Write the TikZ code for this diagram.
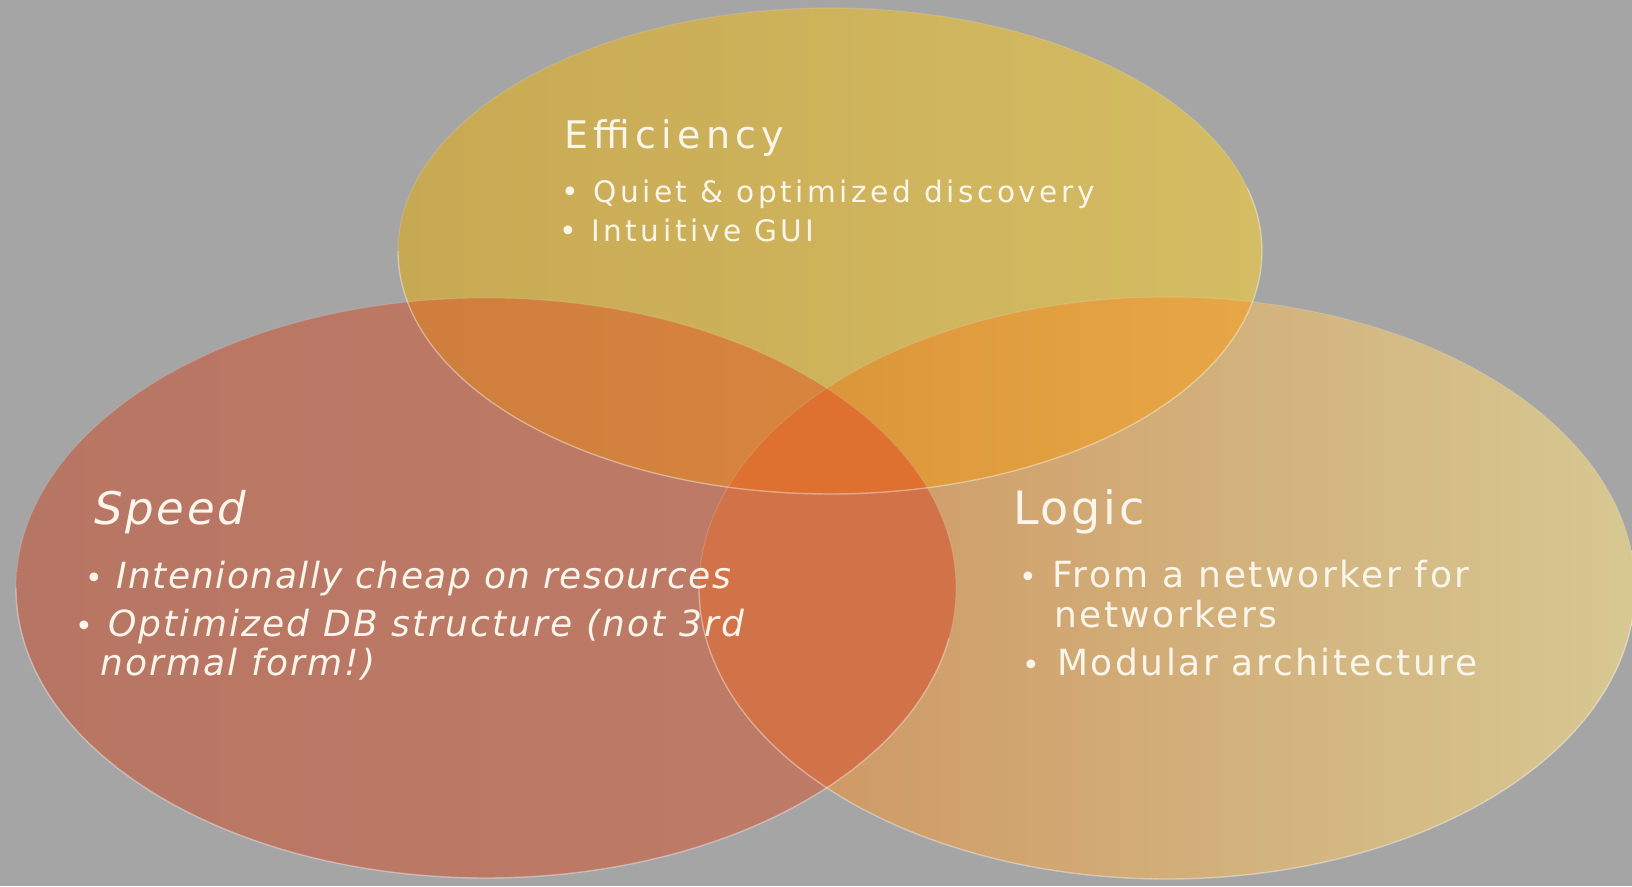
\documentclass[tikz,border=0pt]{standalone}
\usepackage{fontspec}
\setmainfont{DejaVu Sans}
\newfontfamily\effttlfont[LetterSpace=14]{DejaVu Sans}
\newfontfamily\effbdyfont[LetterSpace=12]{DejaVu Sans}
\newfontfamily\lgcttlfont[LetterSpace=6]{DejaVu Sans}
\newfontfamily\lgcbdyfont[LetterSpace=7]{DejaVu Sans}
\newfontfamily\spdttlfont[LetterSpace=6]{DejaVu Sans}
\newfontfamily\spdbdyfont[LetterSpace=4]{DejaVu Sans}
\newfontfamily\spdbdybfont[LetterSpace=6]{DejaVu Sans}
\newfontfamily\bulfont{DejaVu Sans}
\definecolor{bg}{HTML}{A5A5A5}
\definecolor{txt}{HTML}{FBF5EA}
\definecolor{Lone}{HTML}{B77563}
\definecolor{Ltwo}{HTML}{BF7C68}
\definecolor{Rone}{HTML}{CD935F}
\definecolor{Rtwo}{HTML}{D3A672}
\definecolor{Rthree}{HTML}{D7C892}
\definecolor{Tone}{HTML}{C8A953}
\definecolor{Ttwo}{HTML}{D4BD64}
\definecolor{TLone}{HTML}{C7783B}
\definecolor{TLtwo}{HTML}{D9863F}
\definecolor{TRone}{HTML}{D89137}
\definecolor{TRtwo}{HTML}{F3B750}
\definecolor{LRc}{HTML}{D17249}
\definecolor{Cc}{HTML}{DF7130}
\tikzset{
  topE/.style={insert path={(830,635) ellipse [x radius=432, y radius=243]}},
  leftE/.style={insert path={(486,298) ellipse [x radius=470, y radius=290]}},
  rightE/.style={insert path={(1167,298) ellipse [x radius=468, y radius=291]}},
  rim/.style={draw=white, draw opacity=0.12, line width=1.2pt},
  lowrim/.style={draw=white, draw opacity=0.3, line width=1.4pt},
  txtbase/.style={anchor=base west, inner sep=0pt, text=txt},
  effttl/.style={txtbase, font=\effttlfont\fontsize{38}{44}\selectfont},
  effbdy/.style={txtbase, font=\effbdyfont\fontsize{29.6}{36}\selectfont},
  lgcttl/.style={txtbase, font=\lgcttlfont\fontsize{46}{52}\selectfont},
  lgcbdy/.style={txtbase, font=\lgcbdyfont\fontsize{36}{42}\selectfont},
  spdttl/.style={txtbase, font=\spdttlfont\itshape\fontsize{45}{52}\selectfont},
  spdbdy/.style={txtbase, font=\spdbdyfont\itshape\fontsize{36}{42}\selectfont},
  spdbdyb/.style={txtbase, font=\spdbdybfont\itshape\fontsize{36}{42}\selectfont},
  bul/.style={anchor=base, inner sep=0pt, text=txt, font=\bulfont\fontsize{30}{34}\selectfont},
}
\begin{document}
\begin{tikzpicture}[x=1pt,y=1pt]
\useasboundingbox (0,0) rectangle (1632,886);
\fill[bg] (0,0) rectangle (1632,886);
% base ellipses
\shade[left color=Lone, right color=Ltwo, leftE];
\shade[left color=Rone, middle color=Rtwo, right color=Rthree, rightE];
\shade[left color=Tone, right color=Ttwo, topE];
% overlaps
\begin{scope}
  \clip[topE];
  \shade[left color=TLone, right color=TLtwo, leftE];
\end{scope}
\begin{scope}
  \clip[topE];
  \shade[left color=TRone, right color=TRtwo, rightE];
\end{scope}
\begin{scope}
  \clip[leftE];
  \fill[LRc, rightE];
\end{scope}
\begin{scope}
  \clip[topE];
  \clip[leftE];
  \fill[Cc, rightE];
\end{scope}
% rims
\path[rim, leftE];
\path[rim, rightE];
\path[rim, topE];
\coordinate (lw) at (16,298);
\coordinate (rw) at (699,298);
\coordinate (tw) at (398,635);
\draw[lowrim] (lw) arc[start angle=180, end angle=350, x radius=470, y radius=290];
\draw[lowrim] (rw) arc[start angle=180, end angle=365, x radius=468, y radius=291];
\draw[lowrim] (tw) arc[start angle=180, end angle=375, x radius=432, y radius=243];
% Efficiency
\node[effttl] (efft) at (564,737) {Efficiency};
\node[bul] (effb1) at (570,683) {•};
\node[effbdy] (eff1) at (593,683) {Quiet \& optimized discovery};
\node[bul] (effb2) at (568,644) {•};
\node[effbdy] (eff2) at (591,644) {Intuitive GUI};
% Speed
\node[spdttl] (spdt) at (94,361) {Speed};
\node[bul] (spdb1) at (94,297) {•};
\node[spdbdy] (spd1) at (116,297) {Intenionally cheap on resources};
\node[bul] (spdb2) at (84,249) {•};
\node[spdbdyb] (spd2) at (108,249) {Optimized DB structure (not 3rd};
\node[spdbdyb] (spd3) at (100,210) {normal form!)};
% Logic
\node[lgcttl] (lgct) at (1013,361) {Logic};
\node[bul] (lgcb1) at (1028,298) {•};
\node[lgcbdy] (lgc1) at (1052,298) {From a networker for};
\node[lgcbdy] (lgc1b) at (1054,258) {networkers};
\node[bul] (lgcb2) at (1031,210) {•};
\node[lgcbdy] (lgc2) at (1057,210) {Modular architecture};
\end{tikzpicture}
\end{document}
